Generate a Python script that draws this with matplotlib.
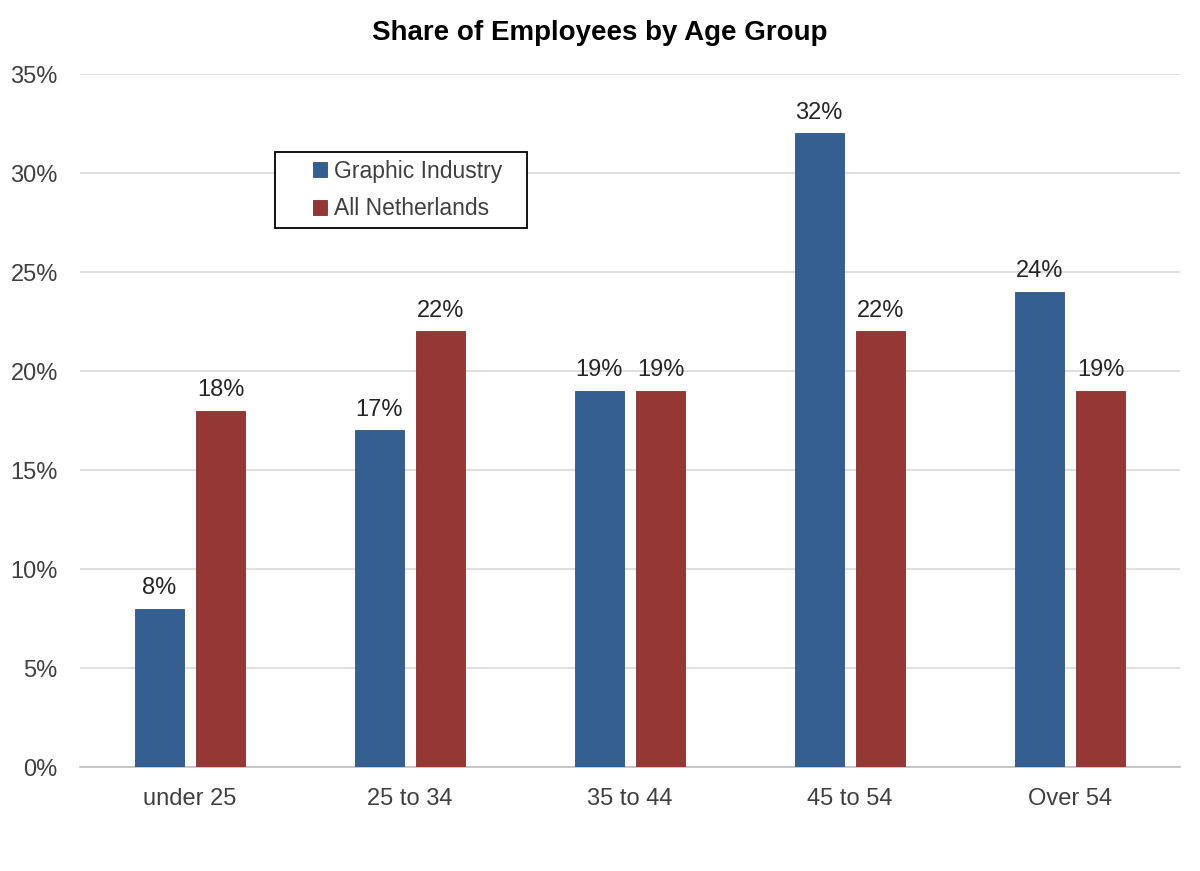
import matplotlib
matplotlib.use('Agg')
import matplotlib.pyplot as plt
import matplotlib.ticker as ticker
from matplotlib.patches import Rectangle

categories = ['under 25', '25 to 34', '35 to 44', '45 to 54', 'Over 54']
graphic = [8, 17, 19, 32, 24]
netherlands = [18, 22, 19, 22, 19]
series_names = ['Graphic Industry', 'All Netherlands']

blue = '#365f91'
red = '#953735'
text_col = '#404040'

plt.rcParams['font.family'] = ['Liberation Sans', 'DejaVu Sans']

fig = plt.figure(figsize=(12, 8.71), dpi=100)
ax = fig.add_axes([0.0667, 0.1194, 0.9166, 0.7956])

x = range(len(categories))
w = 0.223
off = 0.14
b1 = ax.bar([i - off for i in x], graphic, width=w, color=blue,
            edgecolor='#2f5380', linewidth=0.6, label=series_names[0], zorder=3)
b2 = ax.bar([i + off for i in x], netherlands, width=w, color=red,
            edgecolor='#82302e', linewidth=0.6, label=series_names[1], zorder=3)

for bars, vals in [(b1, graphic), (b2, netherlands)]:
    for b, v in zip(bars, vals):
        ax.annotate('%d%%' % v, (b.get_x() + b.get_width() / 2, v),
                    xytext=(0, 7), textcoords='offset points',
                    ha='center', va='bottom', fontsize=17, color='#262626')

ax.set_xlim(-0.5, len(categories) - 0.5)
ax.set_ylim(0, 35)
ax.yaxis.set_major_locator(ticker.MultipleLocator(5))
ax.yaxis.set_major_formatter(ticker.FuncFormatter(lambda v, p: '%d%%' % v))
ax.set_xticks(list(x))
ax.set_xticklabels(categories)
ax.grid(axis='y', color='#d9d9d9', linewidth=1.2, zorder=0)
for s in ['top', 'right', 'left']:
    ax.spines[s].set_visible(False)
ax.spines['bottom'].set_color('#bfbfbf')
ax.spines['bottom'].set_linewidth(1.2)
ax.tick_params(axis='both', length=0, labelsize=17, colors=text_col)
ax.tick_params(axis='x', pad=15)
ax.tick_params(axis='y', pad=16)

fig.text(0.5, 0.962, 'Share of Employees by Age Group', fontsize=20,
         fontweight='bold', color='black', ha='center', va='center')

# legend frame drawn by hand so the box can be wider than its content
ax.add_patch(Rectangle((0.1773, 0.7778), 0.2291, 0.1096, transform=ax.transAxes,
                       facecolor='white', edgecolor='black', linewidth=1.3,
                       zorder=4))
leg = ax.legend(loc='center left', bbox_to_anchor=(0.2118, 0.8326), fontsize=16.5,
                frameon=False, handlelength=0.6, handleheight=0.6,
                handletextpad=0.3, borderpad=0, borderaxespad=0,
                labelspacing=0.65)
leg.set_zorder(5)
for t in leg.get_texts():
    t.set_color(text_col)

fig.savefig('out.png', dpi=100, facecolor='white')
